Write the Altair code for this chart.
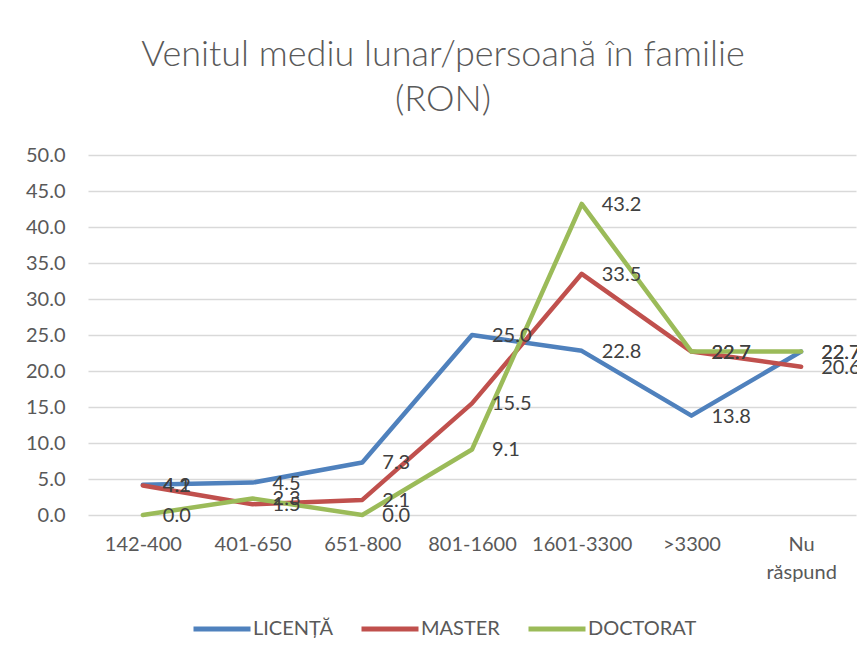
import altair as alt
import pandas as pd

categories = ["142-400", "401-650", "651-800", "801-1600", "1601-3300", ">3300", "Nu răspund"]
series_names = ["LICENȚĂ", "MASTER", "DOCTORAT"]
licenta = [4.2, 4.5, 7.3, 25.0, 22.8, 13.8, 22.7]
master = [4.1, 1.5, 2.1, 15.5, 33.5, 22.7, 20.6]
doctorat = [0.0, 2.3, 0.0, 9.1, 43.2, 22.7, 22.7]
colors = ["#4F81BD", "#C0504D", "#9BBB59"]

rows = []
for name, vals in zip(series_names, [licenta, master, doctorat]):
    for c, v in zip(categories, vals):
        rows.append({"cat": c, "series": name, "value": v})
df = pd.DataFrame(rows)

FONT = "Lato"
W, H = 768, 360

x_enc = alt.X("cat:N", sort=categories, title=None,
              axis=alt.Axis(labelAngle=0, ticks=False, domain=False, grid=False,
                            labelFontSize=20, labelColor="#595959", labelFont=FONT,
                            labelPadding=19, labelLineHeight=28,
                            labelExpr="datum.label == 'Nu răspund' ? ['Nu', 'răspund'] : datum.label"))
y_enc = alt.Y("value:Q", title=None,
              scale=alt.Scale(domain=[0, 50], nice=False),
              axis=alt.Axis(values=[0, 5, 10, 15, 20, 25, 30, 35, 40, 45, 50], format=".1f",
                            ticks=False, domain=False, gridColor="#D9D9D9", gridWidth=1.5,
                            labelFontSize=20, labelColor="#595959", labelFont=FONT,
                            labelPadding=23))
color_enc = alt.Color("series:N", scale=alt.Scale(domain=series_names, range=colors),
                      legend=alt.Legend(title=None, orient="none", direction="horizontal",
                                        legendX=103, legendY=443,
                                        symbolType="stroke", symbolSize=3249, symbolStrokeWidth=5,
                                        labelFontSize=20, labelColor="#595959", labelFont=FONT,
                                        labelOffset=0, columnPadding=18))

base = alt.Chart(df)
layers = []
for name in series_names:
    layers.append(base.transform_filter(alt.datum.series == name).mark_line(
        strokeWidth=4.5, strokeCap="round", strokeJoin="round").encode(
        x=x_enc, y=y_enc, color=color_enc))
for name in series_names:
    layers.append(base.transform_filter(alt.datum.series == name).mark_text(
        align="left", baseline="middle", dx=20, dy=1, fontSize=20, font=FONT,
        color="#404040").encode(
        x=x_enc, y=y_enc, text=alt.Text("value:Q", format=".1f")))

chart = alt.layer(*layers).properties(
    width=W, height=H,
    title=alt.TitleParams(text=["Venitul mediu lunar/persoană în familie", "(RON)"],
                          fontSize=36, font=FONT, fontWeight=300, color="#595959",
                          anchor="middle", dx=-29, offset=26, lineHeight=45),
    autosize=alt.AutoSizeParams(type="none"),
    padding={"left": 80, "top": 147, "right": 1, "bottom": 133},
    background="white",
).configure_view(stroke=None)

chart.save("out.html", embed_options={"renderer": "svg", "actions": False})
